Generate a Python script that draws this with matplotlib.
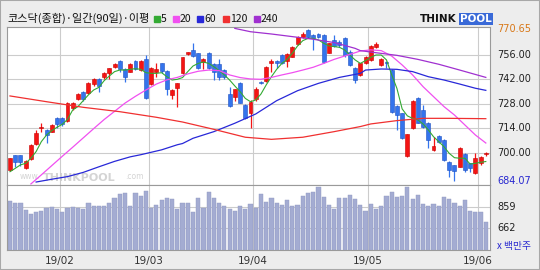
import matplotlib.pyplot as plt
from matplotlib.patches import Rectangle

plt.rcParams['font.family'] = ['Noto Sans CJK KR', 'DejaVu Sans']

# daily candles, 2019-01-18 .. 2019-06-04 (index = trading day)
opens = [690.1, 698.5, 698.5, 691.0, 696.2, 704.8, 714.3, 713.0, 712.0, 719.6,
         719.6, 718.3, 725.3, 730.7, 734.9, 733.9, 739.0, 741.9, 743.0, 745.7,
         748.8, 752.4, 747.6, 746.3, 752.4, 747.2, 753.3, 739.2, 746.3, 751.0,
         746.9, 733.0, 736.8, 745.3, 756.6, 758.7, 756.8, 752.0, 757.0, 750.5,
         750.5, 747.2, 733.5, 732.0, 739.6, 727.2, 722.9, 730.5, 740.6, 741.1,
         751.0, 752.6, 755.8, 752.6, 754.9, 762.1, 765.9, 770.1, 767.2, 767.8,
         767.2, 757.1, 764.4, 763.4, 765.3, 757.7, 748.2, 744.4, 751.0, 753.0,
         760.2, 750.1, 752.0, 747.2, 726.7, 722.5, 698.1, 713.9, 731.4, 724.4,
         717.1, 701.5, 709.5, 707.2, 694.9, 693.0, 692.0, 699.2, 693.9, 688.2,
         693.9, 699.4]
highs = [697.1, 698.5, 698.5, 695.8, 704.8, 713.0, 717.1, 713.4, 716.4, 720.2,
         720.2, 729.1, 729.1, 733.9, 735.2, 740.6, 742.5, 742.5, 746.3, 748.6,
         751.4, 752.9, 748.2, 751.0, 752.9, 752.9, 755.8, 748.8, 751.0, 751.0,
         747.2, 736.2, 739.9, 754.9, 757.7, 762.5, 757.1, 753.9, 757.5, 751.0,
         753.3, 747.6, 737.3, 736.6, 740.6, 727.8, 730.1, 737.3, 741.0, 749.5,
         753.3, 753.0, 756.4, 757.1, 761.0, 766.7, 769.1, 770.65, 767.8, 768.2,
         767.8, 762.9, 767.2, 764.4, 765.9, 758.7, 749.1, 751.4, 755.2, 761.5,
         763.0, 753.9, 752.6, 747.6, 727.2, 722.9, 710.9, 730.1, 731.9, 727.2,
         717.7, 708.8, 709.9, 707.6, 695.4, 693.1, 703.1, 699.6, 694.3, 699.6,
         698.1, 700.6]
lows = [689.5, 692.0, 692.4, 690.5, 695.8, 704.4, 712.0, 705.3, 711.6, 713.9,
        715.0, 717.7, 724.4, 730.1, 729.7, 733.3, 738.1, 734.9, 741.9, 741.9,
        748.4, 746.3, 740.2, 745.9, 747.2, 746.9, 730.5, 738.7, 743.4, 745.3,
        733.0, 730.5, 726.3, 745.0, 755.8, 754.9, 747.6, 747.6, 747.6, 741.5,
        741.5, 741.9, 725.9, 729.7, 728.2, 719.0, 714.3, 729.7, 739.2, 740.4,
        746.3, 748.2, 750.7, 749.1, 754.5, 761.5, 765.3, 765.3, 758.7, 765.3,
        751.0, 756.8, 760.6, 760.6, 754.9, 749.5, 739.9, 743.8, 750.5, 752.6,
        759.6, 749.5, 748.2, 722.9, 713.0, 707.6, 697.7, 713.3, 717.1, 714.3,
        702.5, 701.1, 705.7, 695.4, 686.3, 684.07, 691.6, 688.8, 688.8, 687.8,
        692.8, 698.0]
closes = [696.8, 694.9, 694.9, 695.4, 704.4, 711.4, 714.9, 710.0, 715.8, 716.4,
          716.4, 728.6, 728.6, 733.3, 730.7, 739.6, 742.1, 738.1, 745.7, 748.2,
          750.7, 747.6, 743.4, 750.7, 747.6, 752.4, 731.0, 748.2, 747.6, 746.9,
          736.2, 735.8, 739.6, 754.5, 757.5, 755.2, 748.2, 753.3, 748.2, 746.3,
          743.4, 743.4, 726.7, 736.2, 728.6, 719.6, 729.1, 736.2, 739.6, 749.1,
          752.6, 751.0, 751.0, 756.4, 760.6, 765.9, 767.8, 765.9, 765.3, 765.9,
          752.0, 762.5, 761.0, 761.5, 755.8, 750.1, 741.5, 751.0, 754.9, 761.0,
          762.1, 753.3, 751.4, 723.0, 721.5, 708.2, 710.7, 729.5, 717.1, 714.5,
          707.2, 703.8, 706.3, 695.8, 690.1, 689.7, 702.5, 690.1, 691.0, 696.8,
          697.3, 699.8]
volume = [911, 893, 893, 829, 795, 808, 820, 847, 856, 838,
          814, 847, 856, 847, 838, 893, 862, 862, 862, 893,
          941, 972, 981, 862, 981, 960, 1005, 847, 871, 917,
          941, 932, 838, 893, 893, 814, 941, 847, 996, 941,
          893, 862, 838, 820, 862, 838, 887, 847, 972, 902,
          941, 893, 878, 917, 862, 878, 957, 981, 990, 1036,
          950, 878, 838, 941, 941, 966, 926, 878, 823, 887,
          838, 862, 957, 996, 950, 957, 1042, 926, 966, 887,
          862, 887, 862, 950, 926, 893, 862, 917, 823, 814,
          814, 722]

# moving averages
ma5 = [689.1, 691.0, 693.0, 693.9, 696.8, 700.6, 706.3, 710.1, 712.6, 714.5,
       716.2, 719.0, 724.4, 726.3, 729.7, 733.0, 735.8, 737.3, 741.1, 743.8,
       746.3, 747.2, 747.2, 747.6, 748.0, 747.6, 745.7, 745.3, 745.3, 745.7,
       743.4, 741.5, 741.9, 742.9, 746.3, 749.5, 751.0, 751.8, 751.0, 749.1,
       746.9, 744.4, 741.5, 738.1, 734.9, 731.0, 729.1, 730.1, 733.5, 738.7,
       743.4, 747.6, 751.0, 753.3, 756.8, 761.0, 764.0, 765.3, 765.3, 764.4,
       762.5, 761.0, 760.6, 760.2, 758.7, 755.8, 753.0, 751.0, 752.6, 754.5,
       755.8, 755.8, 753.0, 744.5, 736.7, 725.0, 721.0, 719.6, 718.7, 716.4,
       713.0, 709.1, 706.3, 703.4, 699.6, 697.1, 696.8, 696.8, 693.5, 693.9,
       694.5, 694.9]
ma20_x = [4, 6, 8, 10, 12, 14, 16, 18, 20, 22, 24, 26, 28, 30, 32,
          34, 36, 38, 40, 42, 44, 46, 48, 50, 52, 54, 56, 58, 60, 62, 64, 66,
          67, 69, 71, 73, 75, 77, 79, 81, 83, 85, 87, 89, 91]
ma20 = [682.1, 687.3, 692.6, 697.9, 703.1, 708.4, 713.7, 718.9, 723.6, 728.3,
        732.2, 735.8, 739.2, 741.6, 743.0,
        745.0, 746.5, 747.2, 746.9, 744.4, 742.9, 742.1, 741.9, 743.0, 744.4,
        745.7, 747.2, 748.8, 751.0, 753.3, 755.2, 757.1,
        758.1, 758.7, 758.3, 755.2, 750.1, 744.4, 737.7, 732.0, 726.3, 721.5,
        715.8, 710.1, 705.5]
ma60_x = [5, 8, 11, 14, 17, 20, 23, 25, 29, 32, 33, 35, 39, 43, 47, 51, 55, 59,
          63, 67, 68, 71, 74, 77, 80, 83, 86, 89, 91]
ma60 = [683.2, 684.8, 686.3, 688.7, 691.9, 695.0, 697.6, 698.8, 701.6, 704.5,
        705.2, 708.2, 712.0, 716.8, 722.1, 729.7, 735.4, 739.6, 743.0, 745.3,
        747.2, 747.8, 747.6, 746.3, 743.4, 741.5, 739.2, 736.8, 735.6]
ma120_x = [0, 7, 14, 21, 28, 33, 39, 45, 50, 56, 62, 67, 69, 74, 79, 84, 91]
ma120 = [732.4, 729.1, 725.9, 723.4, 720.2, 717.5, 713.3, 708.8, 707.6, 708.8,
         712.0, 714.9, 716.4, 718.3, 719.6, 719.6, 719.4]
ma240_x = [43, 46, 50, 54, 58, 62, 66, 67, 70, 74, 78, 82, 86, 91]
ma240 = [771.0, 769.1, 767.8, 766.3, 764.8, 762.9, 759.6, 758.3, 757.1, 755.6,
         753.3, 750.5, 747.2, 743.0]

month_pos = [9.5, 26.5, 46.5, 68.5, 89.5]
month_labels = ['19/02', '19/03', '19/04', '19/05', '19/06']
price_grid = [756, 742, 728, 714, 700]
price_max, price_min = 770.65, 684.07
vol_grid = [662, 859]

ma_names = ['5', '20', '60', '120', '240']
ma_colors = ['#33aa33', '#f050f0', '#2828d8', '#f03030', '#a030d0']

fig = plt.figure(figsize=(5.4, 2.7), dpi=100)
fig.patch.set_facecolor('#ededed')
fig.add_artist(Rectangle((0, 0), 1, 1, transform=fig.transFigure, fill=False,
                         edgecolor='#a8a8a8', lw=1.5))

W, H = 540, 270
ax = fig.add_axes([7 / W, 1 - 185 / H, 483 / W, 158 / H])
axv = fig.add_axes([7 / W, 1 - 250 / H, 483 / W, 65 / H])

for a in (ax, axv):
    a.set_facecolor('white')
    a.set_xlim(-0.57, 91.8)
    a.set_xticks(month_pos)
    a.grid(True, color='#cccccc', lw=0.8)
    a.set_axisbelow(True)
    a.tick_params(length=0, labelleft=False)
    for s in a.spines.values():
        s.set_color('#9a9a9a')
        s.set_linewidth(0.8)

# price panel
ax.set_ylim(681.5, 771.8)
ax.set_yticks(price_grid)
ax.tick_params(labelbottom=False)

# watermark
wm = dict(transform=ax.transAxes, color='#d4d4d4', family='DejaVu Sans', zorder=0.5)
ax.text(0.027, 0.04, 'www.', fontsize=5.5, **wm)
ax.text(0.074, 0.025, 'THINKPOOL', fontsize=8, fontweight='bold', **wm)
ax.text(0.245, 0.04, '.com', fontsize=5.5, **wm)

x = list(range(len(closes)))
up = [c >= o for o, c in zip(opens, closes)]
face = ['#f41414' if u else '#3474ec' for u in up]
edge = ['#c80000' if u else '#2050c0' for u in up]
bottoms = [min(o, c) for o, c in zip(opens, closes)]
heights = [max(abs(c - o), 0.35) for o, c in zip(opens, closes)]
ax.vlines(x, lows, highs, colors=face, lw=0.9, zorder=2)
ax.bar(x, heights, 0.75, bottom=bottoms, color=face, edgecolor=edge, lw=0.4, zorder=2)

ax.plot(x, ma5, color=ma_colors[0], lw=0.8, zorder=3)
ax.plot(ma20_x, ma20, color=ma_colors[1], lw=0.9, zorder=3)
ax.plot(ma60_x, ma60, color=ma_colors[2], lw=0.9, zorder=3)
ax.plot(ma120_x, ma120, color=ma_colors[3], lw=0.9, zorder=3)
ax.plot(ma240_x, ma240, color=ma_colors[4], lw=0.9, zorder=3)

yt = ax.get_yaxis_transform()
num = dict(fontsize=7, family='DejaVu Sans', va='center', ha='left')
ax.text(1.0145, price_max, f'{price_max:.2f}', transform=yt, color='#d87818', **num)
for v in price_grid:
    ax.text(1.0145, v, f'{v:.2f}', transform=yt, color='#222222', **num)
ax.text(1.0145, price_min, f'{price_min:.2f}', transform=yt, color='#2828d0', **num)

# volume panel
axv.set_ylim(465, 1056)
axv.set_yticks(vol_grid)
axv.bar(x, volume, 0.8, color='#a4acd2', edgecolor='#9098c0', lw=0.3, zorder=2)
axv.set_xticklabels(month_labels, fontsize=7.5, color='#333333', family='DejaVu Sans')
axv.tick_params(axis='x', pad=4)
vt = axv.get_yaxis_transform()
for v in vol_grid:
    axv.text(1.0145, v, f'{v}', transform=vt, color='#222222', **num)
axv.text(1.0145, 0.06, 'x 백만주', transform=axv.transAxes, color='#2828d0',
         fontsize=7, va='center', ha='left')

# title and moving-average legend
fig.text(7 / W, 1 - 18.5 / H, '코스닥(종합)·일간(90일)·이평', fontsize=8,
         va='center', ha='left', color='#111111')
sq_x = [154, 173, 197, 223, 254]
for name, c, sx in zip(ma_names, ma_colors, sq_x):
    fig.add_artist(Rectangle((sx / W, 1 - 21.5 / H), 5.5 / W, 5.5 / H,
                             transform=fig.transFigure, color=c))
    fig.text((sx + 7) / W, 1 - 18.5 / H, name, fontsize=7.5, va='center',
             ha='left', color='#111111')

# logo
fig.text(420 / W, 1 - 19 / H, 'THINK', fontsize=7.5, fontweight='bold',
         va='center', ha='left', color='#111111', family='DejaVu Sans')
fig.text(460 / W, 1 - 19 / H, 'POOL', fontsize=7.5, fontweight='bold',
         va='center', ha='left', color='white', family='DejaVu Sans',
         bbox=dict(boxstyle='square,pad=0.12', fc='#3a6ad8', ec='none'))

fig.savefig('out.png', dpi=100, facecolor=fig.get_facecolor())
